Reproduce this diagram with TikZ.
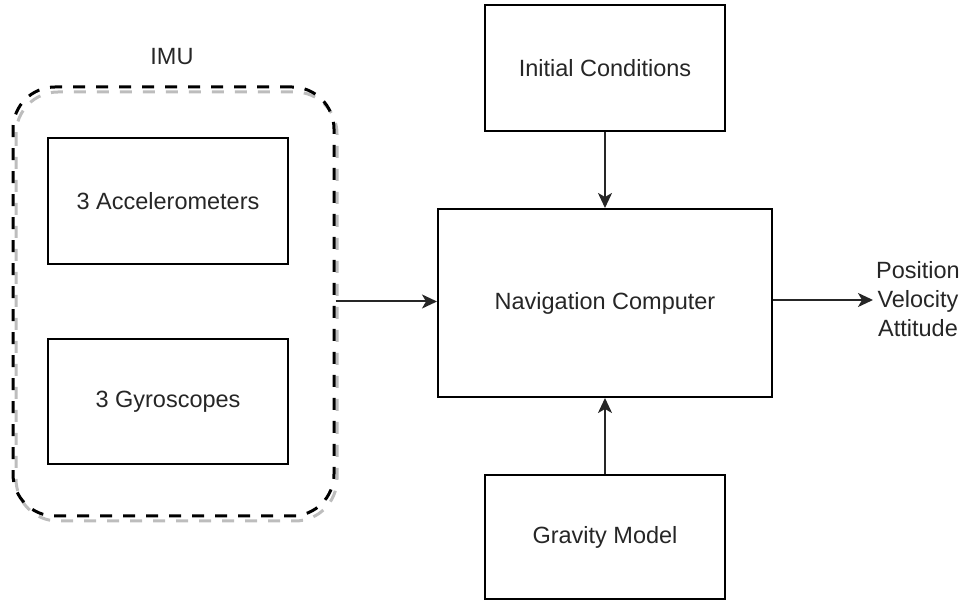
\documentclass[tikz,border=0pt]{standalone}
\usepackage{fontspec}
\setmainfont{Liberation Sans}
\usetikzlibrary{arrows.meta}
\definecolor{txt}{HTML}{262626}
\definecolor{shade}{HTML}{BDBDBD}
\tikzset{
  blk/.style={draw=black, line width=2pt, fill=white, inner sep=0pt,
    font=\fontsize{23.5}{28}\selectfont, text=txt},
  lbl/.style={inner sep=0pt, font=\fontsize{23.5}{29}\selectfont, text=txt, align=center},
  grp/.style={line width=3pt, dash pattern=on 12pt off 11pt, rounded corners=42pt, inner sep=0pt},
  flow/.style={draw=black!85, line width=2pt, -{Stealth[length=15pt,width=14pt,inset=4pt]}}
}
\begin{document}
\begin{tikzpicture}[x=1pt,y=-1pt]
  \useasboundingbox (0,0) rectangle (970,601);

  % IMU group: soft grey offset copy under the dashed outline
  \draw[grp, draw=shade] (16,92) rectangle (337,521);
  \node[grp, draw=black, minimum width=321pt, minimum height=429pt] (imu) at (173.5,301.5) {};
  \node[lbl] (imutitle) at (172,57) {IMU};

  % sensor blocks inside the IMU
  \node[blk, minimum width=240pt, minimum height=126pt] (acc) at (168,201) {3 Accelerometers};
  \node[blk, minimum width=240pt, minimum height=125pt] (gyr) at (168,401.5) {3 Gyroscopes};

  % navigation blocks
  \node[blk, minimum width=240pt, minimum height=126pt] (init) at (605,68) {Initial Conditions};
  \node[blk, minimum width=334pt, minimum height=188pt] (nav) at (605,303) {Navigation Computer};
  \node[blk, minimum width=240pt, minimum height=124pt] (grav) at (605,537) {Gravity Model};

  % outputs
  \node[lbl] (out) at (918,299) {Position\\Velocity\\Attitude};
  \coordinate (outtip) at (873,300);

  % connectors
  \draw[flow] (imu.east) -- (imu.east -| nav.west);
  \draw[flow] (init.south) -- (nav.north);
  \draw[flow] (grav.north) -- (nav.south);
  \draw[flow] (outtip -| nav.east) -- (outtip);
\end{tikzpicture}
\end{document}
